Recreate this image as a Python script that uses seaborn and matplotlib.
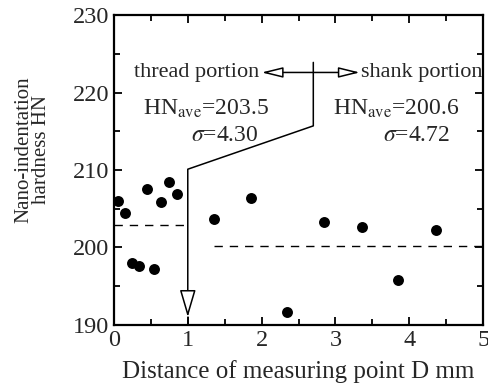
import matplotlib
matplotlib.use("Agg")
import matplotlib.pyplot as plt
import seaborn as sns
import pandas as pd
from matplotlib.patches import FancyArrowPatch
from matplotlib.ticker import MultipleLocator

sns.set_theme(style="ticks")
plt.rcParams['font.family'] = ['Liberation Serif', 'DejaVu Serif']
plt.rcParams['mathtext.fontset'] = 'stix'

# data
distance = [0.06, 0.15, 0.24, 0.34, 0.45, 0.54, 0.64, 0.75, 0.85,
            1.35, 1.85, 2.34, 2.85, 3.36, 3.85, 4.36]
hardness = [206.0, 204.4, 198.0, 197.6, 207.5, 197.2, 205.9, 208.4, 206.9,
            203.7, 206.4, 191.6, 203.3, 202.6, 195.8, 202.2]
thread_x = [0.0, 1.0]
thread_avg = [202.9, 202.9]
shank_x = [1.35, 5.0]
shank_avg = [200.2, 200.2]
boundary_x = [2.7, 2.7, 1.0, 1.0]
boundary_y = [223.9, 215.7, 210.1, 194.5]

df = pd.DataFrame({"D": distance, "HN": hardness})

fig = plt.figure(figsize=(4.89, 3.89), dpi=100)
ax = fig.add_axes([0.233, 0.165, 0.755, 0.796])

sns.scatterplot(data=df, x="D", y="HN", ax=ax, color="black", s=62,
                edgecolor="black", linewidth=0, zorder=3)
sns.lineplot(x=thread_x, y=thread_avg, ax=ax, color="black", lw=1.0,
             linestyle=(0, (6, 5)))
sns.lineplot(x=shank_x, y=shank_avg, ax=ax, color="black", lw=1.0,
             linestyle=(0, (6, 5)))

ax.plot(boundary_x, boundary_y, color="black", lw=1.1)
ax.plot([1.0, 1.0], [191.0, 190.0], color="black", lw=1.1)
arr = FancyArrowPatch((1.0, 194.2), (1.0, 191.0),
                      arrowstyle="-|>,head_length=1.7,head_width=0.5",
                      mutation_scale=10, facecolor="white", edgecolor="black",
                      lw=1.1, shrinkA=0, shrinkB=0, zorder=4)
ax.add_patch(arr)
harr = FancyArrowPatch((2.0, 222.6), (3.33, 222.6),
                       arrowstyle="<|-|>,head_length=1.3,head_width=0.32",
                       mutation_scale=10, facecolor="white", edgecolor="black",
                       lw=1.1, shrinkA=0, shrinkB=0, zorder=4)
ax.add_patch(harr)

fs = 16
ax.text(1.97, 222.6, "thread portion", ha="right", va="center", fontsize=fs)
ax.text(3.34, 222.6, "shank portion", ha="left", va="center", fontsize=fs)
ax.text(0.40, 217.9, r"HN$_{\mathrm{ave}}$=203.5", ha="left", va="center", fontsize=17)
ax.text(1.04, 214.4, r"$\sigma$=4.30", ha="left", va="center", fontsize=17)
ax.text(2.97, 217.9, r"HN$_{\mathrm{ave}}$=200.6", ha="left", va="center", fontsize=17)
ax.text(3.65, 214.4, r"$\sigma$=4.72", ha="left", va="center", fontsize=17)

ax.set_xlim(0, 5)
ax.set_ylim(190, 230)
ax.xaxis.set_major_locator(MultipleLocator(1))
ax.xaxis.set_minor_locator(MultipleLocator(0.5))
ax.yaxis.set_major_locator(MultipleLocator(10))
ax.yaxis.set_minor_locator(MultipleLocator(5))
ax.tick_params(which="both", direction="in", top=True, right=True,
               color="black", width=1.3, labelsize=17.5, pad=3.5)
ax.tick_params(which="major", length=6)
ax.tick_params(which="minor", length=4)
for s in ax.spines.values():
    s.set_linewidth(1.6)
    s.set_color("black")
    s.set_visible(True)

ax.set_xlabel("Distance of measuring point D mm", fontsize=18, labelpad=7)
ax.set_ylabel("Nano-indentation\nhardness HN", fontsize=15, linespacing=0.9)
ax.yaxis.set_label_coords(-0.17, 0.565)

fig.savefig("out.png", dpi=100)
